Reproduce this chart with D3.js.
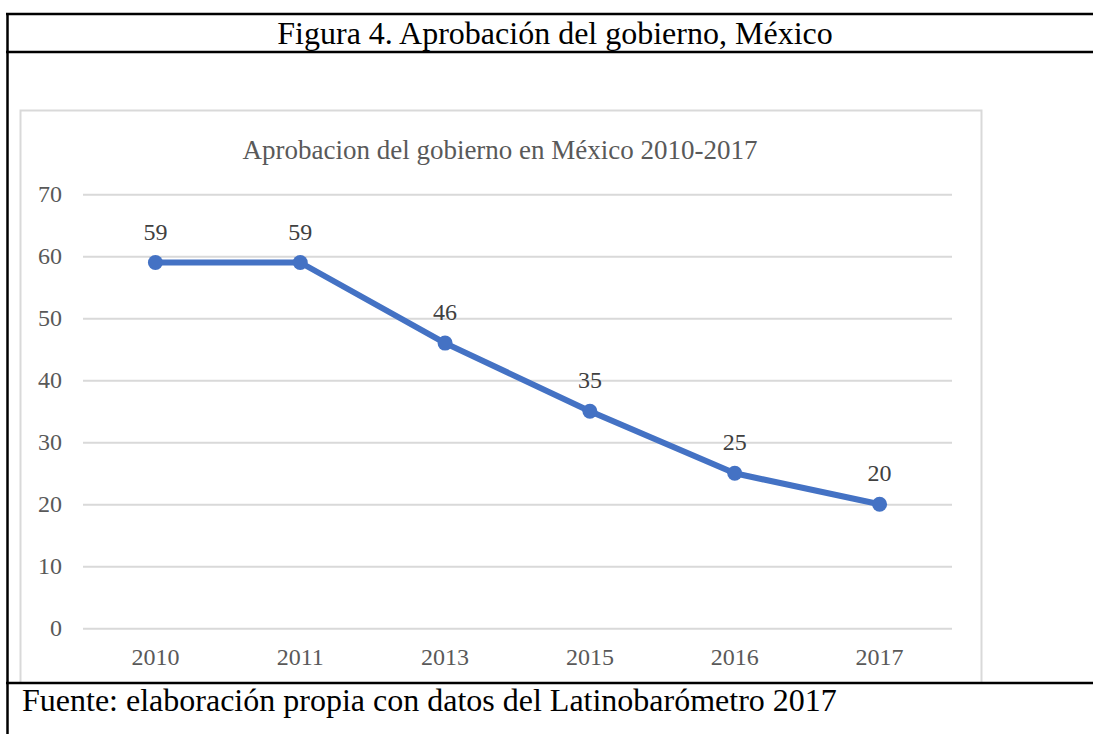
<!DOCTYPE html>
<meta charset="utf-8">
<style>
  body { margin: 0; background: #fff; }
  svg { display: block; }
  text { font-family: "Liberation Serif", "Times New Roman", serif; }
</style>
<script src="https://d3js.org/d3.v7.min.js"></script>
<div id="chart"></div>
<script>
// data
var years = ["2010", "2011", "2013", "2015", "2016", "2017"];
var approval = [59, 59, 46, 35, 25, 20];
var yTicks = [0, 10, 20, 30, 40, 50, 60, 70];

var W = 1093, H = 734;

var svg = d3.select("#chart").append("svg")
    .attr("width", W)
    .attr("height", H);

// table frame around the figure
svg.append("line").attr("x1", 6).attr("x2", W).attr("y1", 14).attr("y2", 14)
    .attr("stroke", "#000").attr("stroke-width", 2.5);
svg.append("line").attr("x1", 6).attr("x2", W).attr("y1", 52).attr("y2", 52)
    .attr("stroke", "#000").attr("stroke-width", 2.5);
svg.append("line").attr("x1", 7.5).attr("x2", 7.5).attr("y1", 13).attr("y2", H)
    .attr("stroke", "#000").attr("stroke-width", 2.5);

svg.append("text")
    .attr("x", 555).attr("y", 44)
    .attr("text-anchor", "middle")
    .attr("font-size", 32)
    .attr("fill", "#000")
    .text("Figura 4. Aprobación del gobierno, México");

// chart area border
svg.append("rect")
    .attr("x", 20.5).attr("y", 110.5)
    .attr("width", 961).attr("height", 590)
    .attr("fill", "none")
    .attr("stroke", "#d9d9d9")
    .attr("stroke-width", 2);

svg.append("text")
    .attr("x", 500).attr("y", 159)
    .attr("text-anchor", "middle")
    .attr("font-size", 27)
    .attr("fill", "#595959")
    .text("Aprobacion del gobierno en México 2010-2017");

// scales
var x = d3.scaleBand()
    .domain(years)
    .range([83, 952]);

var y = d3.scaleLinear()
    .domain([0, 70])
    .range([628.3, 194.3]);

// gridlines + y labels
var yAxis = svg.append("g")
    .attr("transform", "translate(83,0)")
    .call(d3.axisLeft(y).tickValues(yTicks).tickSize(-(952 - 83)).tickPadding(21));
yAxis.select(".domain").remove();
yAxis.selectAll(".tick line").attr("stroke", "#d9d9d9").attr("stroke-width", 2);
yAxis.selectAll(".tick text")
    .attr("font-family", "Liberation Serif, Times New Roman, serif")
    .attr("font-size", 24)
    .attr("fill", "#595959");

// x labels
var xAxis = svg.append("g")
    .attr("transform", "translate(0,628.3)")
    .call(d3.axisBottom(x).tickSize(0).tickPadding(20));
xAxis.select(".domain").remove();
xAxis.selectAll(".tick text")
    .attr("font-family", "Liberation Serif, Times New Roman, serif")
    .attr("font-size", 24)
    .attr("fill", "#595959");

var pts = years.map(function(d, i) { return { year: d, value: approval[i] }; });

var line = d3.line()
    .x(function(d) { return x(d.year) + x.bandwidth() / 2; })
    .y(function(d) { return y(d.value); });

svg.append("path")
    .datum(pts)
    .attr("d", line)
    .attr("fill", "none")
    .attr("stroke", "#4472c4")
    .attr("stroke-width", 6)
    .attr("stroke-linejoin", "round");

svg.selectAll(".dot")
    .data(pts)
    .enter().append("circle")
    .attr("class", "dot")
    .attr("cx", function(d) { return x(d.year) + x.bandwidth() / 2; })
    .attr("cy", function(d) { return y(d.value); })
    .attr("r", 7.5)
    .attr("fill", "#4472c4");

svg.selectAll(".lbl")
    .data(pts)
    .enter().append("text")
    .attr("class", "lbl")
    .attr("x", function(d) { return x(d.year) + x.bandwidth() / 2; })
    .attr("y", function(d) { return y(d.value) - 23; })
    .attr("text-anchor", "middle")
    .attr("font-size", 24)
    .attr("fill", "#404040")
    .text(function(d) { return d.value; });

// footer row covers the bottom of the chart border
svg.append("rect")
    .attr("x", 9).attr("y", 683).attr("width", W - 9).attr("height", H - 683)
    .attr("fill", "#fff");
svg.append("line").attr("x1", 6).attr("x2", W).attr("y1", 683).attr("y2", 683)
    .attr("stroke", "#000").attr("stroke-width", 2.5);

svg.append("text")
    .attr("x", 22).attr("y", 711)
    .attr("font-size", 32)
    .attr("fill", "#000")
    .text("Fuente: elaboración propia con datos del Latinobarómetro 2017");
</script>
